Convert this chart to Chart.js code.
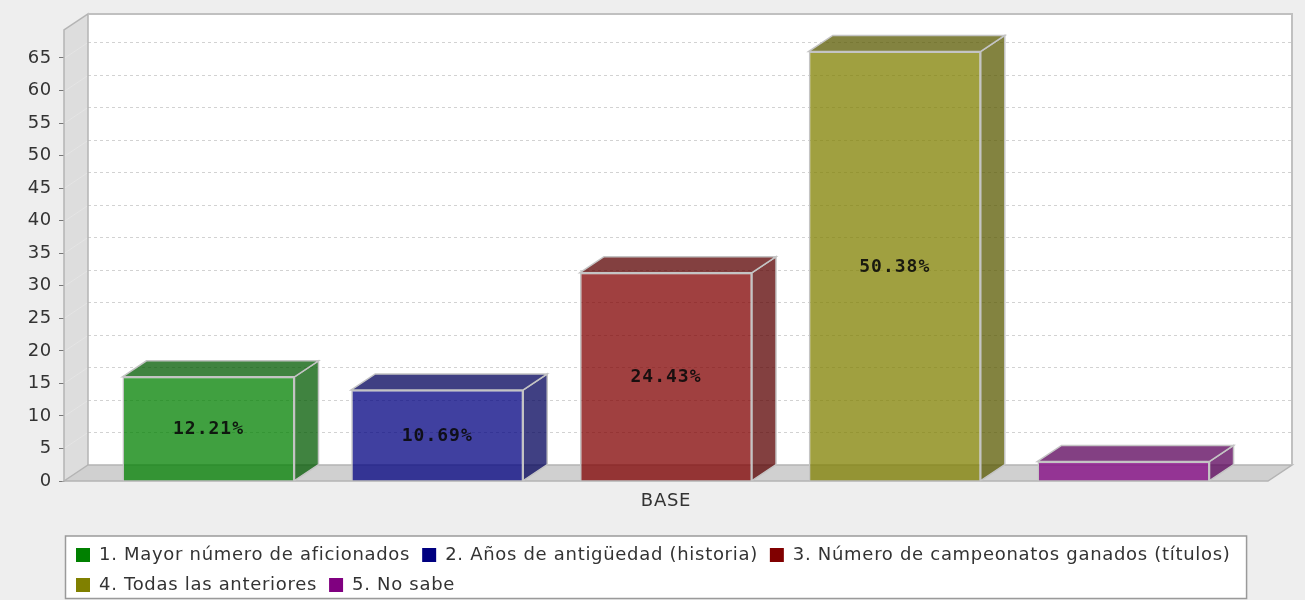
<!DOCTYPE html>
<html>
<head>
<meta charset="utf-8">
<script src="https://cdn.jsdelivr.net/npm/chart.js@4.4.1/dist/chart.umd.min.js"></script>
<style>
  html, body { margin: 0; padding: 0; background: #eeeeee; }
  #wrap { width: 1305px; height: 600px; position: relative; }
  canvas { display: block; }
</style>
</head>
<body>
<div id="wrap"><canvas id="c" width="1305" height="600"></canvas></div>
<script>
// ---- data ----
const categories = ['BASE'];
const seriesNames = [
  '1. Mayor número de aficionados',
  '2. Años de antigüedad (historia)',
  '3. Número de campeonatos ganados (títulos)',
  '4. Todas las anteriores',
  '5. No sabe'
];
const seriesValues = [16, 14, 32, 66, 3];
const seriesColors = ['#008000', '#000080', '#800000', '#808000', '#800080'];
const yTickValues = [0, 5, 10, 15, 20, 25, 30, 35, 40, 45, 50, 55, 60, 65];
const yAxisMax = 69.3;

// ---- helpers ----
function hexToRgb(h) {
  const n = parseInt(h.slice(1), 16);
  return [(n >> 16) & 255, (n >> 8) & 255, n & 255];
}
function rgba(h, a, f) {
  const c = hexToRgb(h).map(v => Math.floor(v * (f || 1)));
  return 'rgba(' + c[0] + ',' + c[1] + ',' + c[2] + ',' + a + ')';
}
const ALPHA = 0.75;
const DX = 24, DY = 16;
const LS = '0.7px';
const total = seriesValues.reduce((s, v) => s + v, 0);

const spacingPlugin = {
  id: 'spacing',
  beforeUpdate(chart) { chart.ctx.letterSpacing = LS; },
  beforeLayout(chart) { chart.ctx.letterSpacing = LS; },
  beforeDraw(chart) { chart.ctx.letterSpacing = LS; }
};

const threeD = {
  id: 'threeD',
  beforeDraw(chart) {
    const ctx = chart.ctx;
    ctx.save();
    ctx.fillStyle = '#eeeeee';
    ctx.fillRect(0, 0, chart.width, chart.height);
    const lg = chart.legend;
    if (lg && lg.lineWidths) {
      const x0 = lg.left + 1.5, y0 = lg.top + 2;
      const x1 = lg.left + lg.lineWidths[0] + 16, y1 = lg.bottom - 1.5;
      ctx.fillStyle = '#ffffff';
      ctx.fillRect(x0, y0, x1 - x0, y1 - y0);
      ctx.strokeStyle = '#9a9a9a';
      ctx.lineWidth = 1.5;
      ctx.strokeRect(x0, y0, x1 - x0, y1 - y0);
    }
    ctx.restore();
  },
  beforeDatasetsDraw(chart) {
    const ctx = chart.ctx;
    const a = chart.chartArea;
    const y = chart.scales.y;
    ctx.save();
    ctx.letterSpacing = '0px';
    // back wall
    ctx.fillStyle = '#ffffff';
    ctx.fillRect(a.left + DX, a.top - DY, a.right - a.left, a.bottom - a.top);
    // left wall
    ctx.beginPath();
    ctx.moveTo(a.left, a.top);
    ctx.lineTo(a.left + DX, a.top - DY);
    ctx.lineTo(a.left + DX, a.bottom - DY);
    ctx.lineTo(a.left, a.bottom);
    ctx.closePath();
    ctx.fillStyle = '#dddddd';
    ctx.fill();
    // gridlines
    ctx.lineWidth = 1;
    yTickValues.forEach(v => {
      if (v === 0) return;
      const py = Math.round(y.getPixelForValue(v)) + 0.5;
      ctx.setLineDash([3, 3]);
      ctx.strokeStyle = '#d2d2d2';
      ctx.beginPath();
      ctx.moveTo(a.left + DX, py - DY);
      ctx.lineTo(a.right + DX, py - DY);
      ctx.stroke();
      ctx.setLineDash([]);
      ctx.strokeStyle = '#e4e4e4';
      ctx.beginPath();
      ctx.moveTo(a.left, py);
      ctx.lineTo(a.left + DX, py - DY);
      ctx.stroke();
    });
    // floor
    ctx.beginPath();
    ctx.moveTo(a.left, a.bottom);
    ctx.lineTo(a.left + DX, a.bottom - DY);
    ctx.lineTo(a.right + DX, a.bottom - DY);
    ctx.lineTo(a.right, a.bottom);
    ctx.closePath();
    ctx.fillStyle = '#d0d0d0';
    ctx.fill();
    ctx.strokeStyle = '#b4b4b4';
    ctx.lineWidth = 1.5;
    ctx.stroke();
    // left wall outline
    ctx.beginPath();
    ctx.moveTo(a.left, a.bottom);
    ctx.lineTo(a.left, a.top);
    ctx.lineTo(a.left + DX, a.top - DY);
    ctx.lineTo(a.left + DX, a.bottom - DY);
    ctx.stroke();
    // back wall outline
    ctx.strokeStyle = '#c0c0c0';
    ctx.lineWidth = 2;
    ctx.beginPath();
    ctx.moveTo(a.left + DX, a.top - DY);
    ctx.lineTo(a.right + DX, a.top - DY);
    ctx.lineTo(a.right + DX, a.bottom - DY);
    ctx.stroke();
    ctx.restore();
  },
  afterDatasetsDraw(chart) {
    const ctx = chart.ctx;
    ctx.save();
    seriesValues.forEach((val, i) => {
      const bar = chart.getDatasetMeta(i).data[0];
      if (!bar) return;
      const p = bar.getProps(['x', 'y', 'base', 'width'], true);
      const l = p.x - p.width / 2, r = p.x + p.width / 2;
      const t = Math.min(p.y, p.base), b = Math.max(p.y, p.base);
      // side
      ctx.beginPath();
      ctx.moveTo(r, t);
      ctx.lineTo(r + DX, t - DY);
      ctx.lineTo(r + DX, b - DY);
      ctx.lineTo(r, b);
      ctx.closePath();
      ctx.fillStyle = rgba(seriesColors[i], ALPHA, 0.7);
      ctx.fill();
      ctx.strokeStyle = '#c4c4c4';
      ctx.lineWidth = 1.5;
      ctx.stroke();
      // top
      ctx.beginPath();
      ctx.moveTo(l, t);
      ctx.lineTo(l + DX, t - DY);
      ctx.lineTo(r + DX, t - DY);
      ctx.lineTo(r, t);
      ctx.closePath();
      ctx.fill();
      ctx.stroke();
      // label
      if (b - t > 30) {
        const txt = (val / total * 100).toFixed(2) + '%';
        ctx.letterSpacing = '1px';
        ctx.font = 'bold 18px "DejaVu Sans Mono", monospace';
        ctx.fillStyle = 'rgba(10,10,10,0.9)';
        ctx.textAlign = 'center';
        ctx.textBaseline = 'middle';
        ctx.fillText(txt, p.x, (t + b) / 2 + 1);
      }
    });
    ctx.restore();
  }
};

const baseFont = { family: '"DejaVu Sans", sans-serif', size: 18 };

new Chart(document.getElementById('c'), {
  type: 'bar',
  data: {
    labels: categories,
    datasets: seriesNames.map((name, i) => ({
      label: name,
      data: [seriesValues[i]],
      backgroundColor: rgba(seriesColors[i], ALPHA),
      borderColor: '#c4c4c4',
      borderWidth: 1.5
    }))
  },
  options: {
    responsive: false,
    animation: false,
    devicePixelRatio: 1,
    layout: { padding: { top: 30, right: 37, left: 0, bottom: 0 } },
    datasets: { bar: { categoryPercentage: 0.95, barPercentage: 0.752 } },
    plugins: {
      legend: {
        position: 'bottom',
        align: 'start',
        fullSize: false,
        maxHeight: 66,
        labels: {
          boxWidth: 14,
          boxHeight: 14,
          padding: 12,
          color: '#333333',
          font: baseFont,
          generateLabels(chart) {
            return seriesNames.map((name, i) => ({
              text: name,
              fillStyle: seriesColors[i],
              strokeStyle: seriesColors[i],
              lineWidth: 0,
              hidden: false,
              datasetIndex: i,
              fontColor: '#333333'
            }));
          }
        }
      },
      tooltip: { enabled: false }
    },
    scales: {
      x: {
        grid: { display: false, drawTicks: false },
        border: { display: false },
        ticks: { padding: 10, color: '#333333', font: baseFont },
        afterFit(s) { s.height = 53; }
      },
      y: {
        min: 0,
        max: yAxisMax,
        grid: { drawOnChartArea: false, drawTicks: true, tickLength: 5, color: '#777777' },
        border: { display: true, color: '#b4b4b4' },
        ticks: { stepSize: 5, includeBounds: false, padding: 7, color: '#333333', font: baseFont },
        afterBuildTicks(s) { s.ticks = s.ticks.filter(t => yTickValues.includes(t.value)); },
        afterFit(s) { s.width = 64; }
      }
    }
  },
  plugins: [spacingPlugin, threeD]
});
</script>
</body>
</html>
